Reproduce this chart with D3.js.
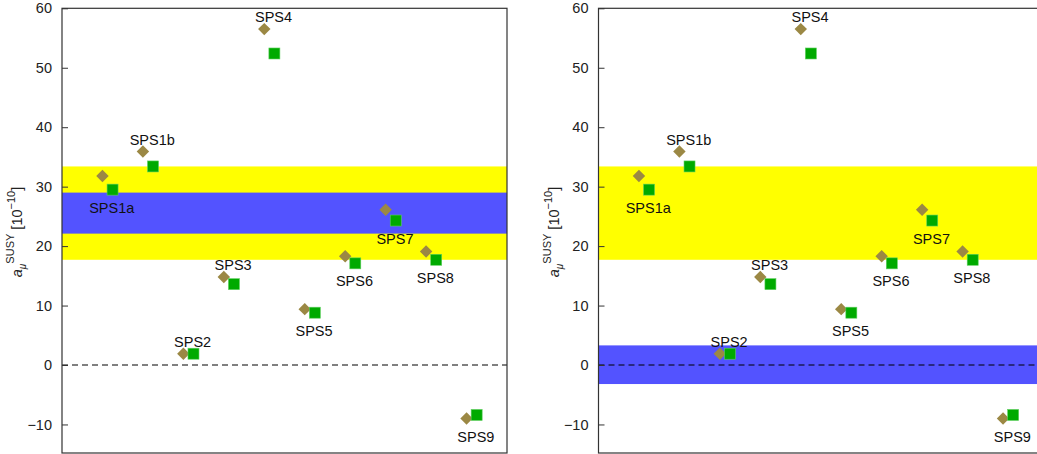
<!DOCTYPE html>
<html>
<head>
<meta charset="utf-8">
<script src="https://cdn.jsdelivr.net/npm/d3@7/dist/d3.min.js"></script>
<style>
  body { margin: 0; background: #fff; }
  svg, svg text { font-family: "Liberation Sans", Arial, sans-serif; }
</style>
</head>
<body>
<div id="chart"></div>
<script>
const points      = ["SPS1a", "SPS1b", "SPS2", "SPS3", "SPS4", "SPS5", "SPS6", "SPS7", "SPS8", "SPS9"];
const diamondVals = [31.8, 35.9, 1.9, 14.8, 56.5, 9.4, 18.3, 26.1, 19.1, -9.0];
const squareVals  = [29.5, 33.4, 1.9, 13.6, 52.4, 8.8, 17.1, 24.3, 17.7, -8.4];
const labelSide   = ["below", "above", "above", "above", "above", "below", "below", "below", "below", "below"];
const yTicks      = [-10, 0, 10, 20, 30, 40, 50, 60];

// experimental bands per panel: [low, high]
const yellowBands = [[17.7, 33.4], [17.7, 33.4]];
const blueBands   = [[22.1, 29.0], [-3.2, 3.3]];

const W = 1037, H = 454;
const FONT    = "'Liberation Sans', Arial, sans-serif";
const DIAMOND = "#9b8844";
const GREEN   = "#00aa00";
const BLUE    = "#5353ff";
const YELLOW  = "#ffff00";

const svg = d3.select("#chart").append("svg")
  .attr("width", W).attr("height", H)
  .attr("font-family", FONT);

const y = d3.scaleLinear().domain([-14.8, 60]).range([453, 8.3]);

const panels = [{ left: 62 }, { left: 598.5 }];
const panelW = 445;

panels.forEach((p, pi) => {
  const x = d3.scaleLinear().domain([0, 11]).range([p.left, p.left + panelW]);
  const g = svg.append("g");

  // bands
  const yb = yellowBands[pi];
  g.append("rect")
    .attr("x", x(0)).attr("width", panelW)
    .attr("y", y(yb[1])).attr("height", y(yb[0]) - y(yb[1]))
    .attr("fill", YELLOW);
  const bb = blueBands[pi];
  g.append("rect")
    .attr("x", x(0)).attr("width", panelW)
    .attr("y", y(bb[1])).attr("height", y(bb[0]) - y(bb[1]))
    .attr("fill", BLUE);

  // zero line
  g.append("line")
    .attr("x1", x(0)).attr("x2", x(11))
    .attr("y1", y(0)).attr("y2", y(0))
    .attr("stroke", "#000").attr("stroke-width", 1)
    .attr("stroke-dasharray", "6 4");

  // frame
  g.append("rect")
    .attr("x", x(0)).attr("y", y(60))
    .attr("width", panelW).attr("height", y(-14.8) - y(60))
    .attr("fill", "none").attr("stroke", "#333").attr("stroke-width", 1.2);

  // y axis
  const axis = g.append("g")
    .attr("transform", `translate(${x(0)},0)`)
    .call(d3.axisLeft(y).tickValues(yTicks).tickSize(-6).tickPadding(10)
      .tickFormat(d => d < 0 ? "\u2212" + Math.abs(d) : d));
  axis.attr("font-family", FONT);
  axis.select(".domain").remove();
  axis.selectAll(".tick line").attr("stroke", "#333");
  axis.selectAll(".tick text").attr("font-size", 14.5).attr("fill", "#222");

  // points
  points.forEach((name, i) => {
    const xd = x(i + 1), xs = x(i + 1.25);
    g.append("rect")
      .attr("x", -4.4).attr("y", -4.4).attr("width", 8.8).attr("height", 8.8)
      .attr("transform", `translate(${xd},${y(diamondVals[i])}) rotate(45)`)
      .attr("fill", DIAMOND);
    g.append("rect")
      .attr("x", xs - 5.5).attr("y", y(squareVals[i]) - 5.5)
      .attr("width", 11).attr("height", 11)
      .attr("fill", GREEN).attr("stroke", "#5fcf5f").attr("stroke-width", 0.6);

    const above = labelSide[i] === "above";
    const ly = above
      ? y(Math.max(diamondVals[i], squareVals[i])) - 7
      : y(Math.min(diamondVals[i], squareVals[i])) + 23;
    g.append("text")
      .attr("x", x(i + 1.23)).attr("y", ly)
      .attr("text-anchor", "middle")
      .attr("font-size", 14.5).attr("fill", "#111")
      .text(name);
  });

  // y-axis title
  const lx = p.left - 40, ly = 232;
  const t = g.append("text")
    .attr("transform", `translate(${lx},${ly}) rotate(-90)`)
    .attr("text-anchor", "middle")
    .attr("font-size", 14.5).attr("fill", "#222");
  t.append("tspan").attr("font-style", "italic").text("a");
  t.append("tspan").attr("font-size", 10).attr("font-style", "italic").attr("dy", 4).text("\u03bc");
  t.append("tspan").attr("font-size", 11).attr("dy", -12).text("SUSY");
  t.append("tspan").attr("dy", 8).text(" [10");
  t.append("tspan").attr("font-size", 11).attr("dy", -7).text("\u221210");
  t.append("tspan").attr("dy", 7).text("]");
});
</script>
</body>
</html>
